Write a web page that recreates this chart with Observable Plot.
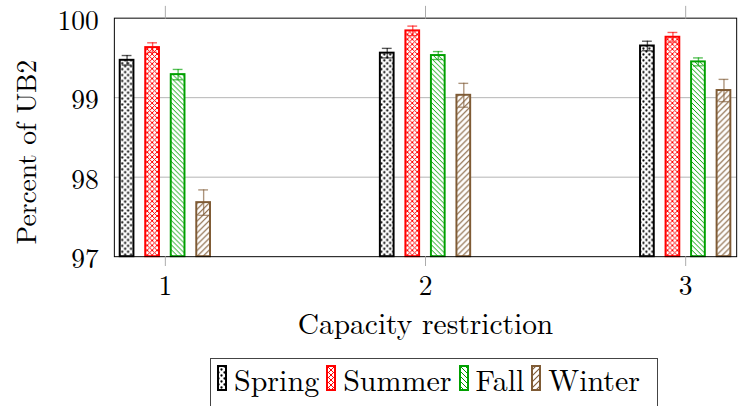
<!DOCTYPE html>
<html><head><meta charset="utf-8">
<script src="https://cdn.jsdelivr.net/npm/d3@7"></script>
<script src="https://cdn.jsdelivr.net/npm/@observablehq/plot@0.6"></script>
<style>
html,body{margin:0;padding:0;overflow:hidden;background:#fff;}
#wrap{position:relative;width:746px;height:406px;overflow:hidden;}
#wrap svg.plot{position:absolute;left:0;top:0;}
#legend{position:absolute;left:210px;top:358px;width:448px;height:70px;border:1px solid #444;box-sizing:border-box;display:flex;align-items:flex-start;padding:5px 0 0 6px;gap:7px;}
.item{display:flex;align-items:flex-start;}
.item span{font-size:30px;line-height:30px;color:#000;margin-left:6px;white-space:nowrap;}
</style></head><body><div id="wrap"></div>
<script>
// ---- data ----
const capacity = [1, 2, 3];
const seasons = ["Spring", "Summer", "Fall", "Winter"];
const spring = [99.47, 99.56, 99.65];
const springErr = [0.06, 0.06, 0.06];
const summer = [99.63, 99.84, 99.76];
const summerErr = [0.06, 0.06, 0.06];
const fall = [99.29, 99.53, 99.45];
const fallErr = [0.065, 0.05, 0.05];
const winter = [97.68, 99.03, 99.09];
const winterErr = [0.16, 0.15, 0.14];
const yTicks = [97, 98, 99, 100];
const xTicks = [1, 2, 3];
const yLabel = "Percent of UB2";
const xLabel = "Capacity restriction";

// ---- font detection (pick an installed serif) ----
function hasFont(name) {
  const c = document.createElement("canvas").getContext("2d");
  const t = "Capacity restriction 0123456789 Wgl";
  for (const base of ["monospace", "sans-serif"]) {
    c.font = `30px ${base}`; const w0 = c.measureText(t).width;
    c.font = `30px "${name}", ${base}`; const w1 = c.measureText(t).width;
    if (Math.abs(w0 - w1) > 0.5) return true;
  }
  return false;
}
const candidates = ["Latin Modern Roman", "CMU Serif", "Liberation Serif", "Tinos", "Times New Roman", "Nimbus Roman", "FreeSerif", "Noto Serif", "DejaVu Serif", "Times", "serif"];
const found = candidates.find(f => f === "serif" || hasFont(f));
const FONT = found === "serif" ? "serif" : `"${found}", serif`;

// ---- style ----
const W = 760, H = 352, mL = 116, mR = 10, mT = 18, mB = 91;
const xDomain = [0.804, 3.196], yDomain = [97, 100];
const colors = {Spring: "#000000", Summer: "#ff0000", Fall: "#00a000", Winter: "#7f5b35"};
const shiftPx = {Spring: -39, Summer: -13, Fall: 13, Winter: 39};
const barHalfPx = 7, capHalfPx = 5;
const unit = (W - mL - mR) / (xDomain[1] - xDomain[0]);
const px = p => p / unit;

const values = {Spring: spring, Summer: summer, Fall: fall, Winter: winter};
const errors = {Spring: springErr, Summer: summerErr, Fall: fallErr, Winter: winterErr};

const marks = [Plot.gridY([98, 99], {stroke: "#b4b4b4", strokeOpacity: 1, strokeWidth: 1})];
for (const s of seasons) {
  const rows = capacity.map((c, j) => ({cap: c, value: values[s][j], err: errors[s][j]}));
  const sh = px(shiftPx[s]);
  marks.push(Plot.rect(rows, {
    x1: d => d.cap + sh - px(barHalfPx), x2: d => d.cap + sh + px(barHalfPx),
    y1: () => yDomain[0], y2: d => d.value,
    fill: `url(#pat-${s})`, stroke: colors[s], strokeWidth: 2
  }));
}
for (const s of seasons) {
  const rows = capacity.map((c, j) => ({cap: c, value: values[s][j], err: errors[s][j]}));
  const sh = px(shiftPx[s]);
  const st = {stroke: colors[s], strokeOpacity: 0.65, strokeWidth: 1.4};
  marks.push(Plot.ruleX(rows, {x: d => d.cap + sh, y1: d => d.value - d.err, y2: d => d.value + d.err, ...st}));
  marks.push(Plot.ruleY(rows, {y: d => d.value + d.err, x1: d => d.cap + sh - px(capHalfPx), x2: d => d.cap + sh + px(capHalfPx), ...st}));
  marks.push(Plot.ruleY(rows, {y: d => d.value - d.err, x1: d => d.cap + sh - px(capHalfPx), x2: d => d.cap + sh + px(capHalfPx), ...st}));
}
marks.push(Plot.frame({stroke: "#000", strokeWidth: 1}));
marks.push(Plot.axisY({ticks: yTicks, tickSize: 0, tickPadding: 16, dy: 3, label: null, fill: "#000", tickFormat: d => String(d)}));
marks.push(Plot.axisX({ticks: xTicks, tickSize: 10, tickPadding: 9, label: null, stroke: "#aaa", fill: "#000", tickFormat: d => String(d)}));
marks.push(Plot.axisX({anchor: "top", ticks: xTicks, tickSize: 13, label: null, stroke: "#aaa", tickFormat: () => ""}));
marks.push(Plot.text([yLabel], {text: d => d, frameAnchor: "left", textAnchor: "middle", lineAnchor: "middle", dx: -89, dy: 15, rotate: -90, fontSize: 28, fill: "#000"}));
marks.push(Plot.text([xLabel], {text: d => d, frameAnchor: "bottom", textAnchor: "middle", lineAnchor: "middle", dy: 69, fontSize: 30, fill: "#000"}));

const svg = Plot.plot({
  width: W, height: H, marginLeft: mL, marginRight: mR, marginTop: mT, marginBottom: mB,
  x: {domain: xDomain, axis: null},
  y: {domain: yDomain, axis: null},
  style: {fontFamily: FONT, fontSize: "28px", background: "#fff", overflow: "visible"},
  marks
});

// patterns
const defs = d3.select(svg).insert("defs", ":first-child");
function pat(id, size) {
  const p = defs.append("pattern").attr("id", id).attr("patternUnits", "userSpaceOnUse")
    .attr("width", size).attr("height", size);
  p.append("rect").attr("width", size).attr("height", size).attr("fill", "#fff");
  return p;
}
{ const p = pat("pat-Spring", 6);
  p.append("circle").attr("cx", 1.5).attr("cy", 1.5).attr("r", 1.15).attr("fill", colors.Spring);
  p.append("circle").attr("cx", 4.5).attr("cy", 4.5).attr("r", 1.15).attr("fill", colors.Spring); }
{ const p = pat("pat-Summer", 5);
  p.append("path").attr("d", "M-1,-1L6,6M-1,6L6,-1M-1,4L1,6M4,-1L6,1M-1,1L1,-1M4,6L6,4").attr("stroke", colors.Summer).attr("stroke-width", 1); }
{ const p = pat("pat-Fall", 5);
  p.append("path").attr("d", "M-1,-1L6,6M-1,4L1,6M4,-1L6,1").attr("stroke", colors.Fall).attr("stroke-width", 1); }
{ const p = pat("pat-Winter", 6);
  p.append("path").attr("d", "M-1,7L7,-1M-1,1L1,-1M5,7L7,5").attr("stroke", colors.Winter).attr("stroke-width", 1.1); }

const wrap = document.getElementById("wrap");
wrap.style.fontFamily = FONT;
wrap.appendChild(svg);

// legend
const legend = d3.select(wrap).append("div").attr("id", "legend");
for (const s of seasons) {
  const it = legend.append("div").attr("class", "item");
  const sw = it.append("svg").attr("width", 11).attr("height", 28).style("margin-top", "1px");
  sw.append("rect").attr("x", 1).attr("y", 1).attr("width", 8).attr("height", 24)
    .attr("fill", `url(#pat-${s})`).attr("stroke", colors[s]).attr("stroke-width", 2);
  it.append("span").text(s);
}
</script></body></html>
